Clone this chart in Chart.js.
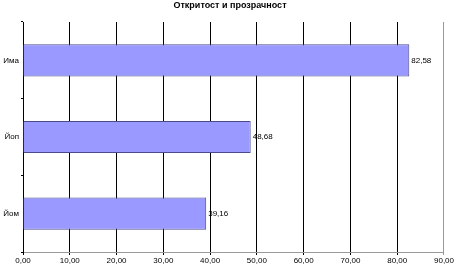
<!DOCTYPE html>
<html>
<head>
<meta charset="utf-8">
<script src="https://cdn.jsdelivr.net/npm/chart.js@4.4.0/dist/chart.umd.min.js"></script>
<style>
  html, body { margin: 0; padding: 0; background: #fff; }
  #wrap { width: 455px; height: 268px; }
</style>
</head>
<body>
<div id="wrap"><canvas id="myChart" width="455" height="268"></canvas></div>
<script>
const chartTitle = 'Откритост и прозрачност';
const categories = ['Има', 'Йоп', 'Йом'];
const values = [82.58, 48.68, 39.16];
const xMin = 0;
const xMax = 90;
const xStep = 10;

const fmt = v => v.toFixed(2).replace('.', ',');

// title + value labels next to bars
const textPlugin = {
  id: 'textPlugin',
  afterDraw(chart) {
    const c = chart.ctx;
    c.save();
    c.fillStyle = '#000';
    c.font = 'bold 9px "Liberation Sans", Arial, sans-serif';
    c.textAlign = 'center';
    c.textBaseline = 'middle';
    c.fillText(chartTitle, 230, 6);

    c.font = '8px "Liberation Sans", Arial, sans-serif';
    c.textAlign = 'left';
    chart.getDatasetMeta(0).data.forEach((bar, i) => {
      c.fillText(fmt(values[i]), bar.x + 2, bar.y);
    });
    c.restore();
  }
};

const ctx = document.getElementById('myChart').getContext('2d');

const chart = new Chart(ctx, {
  type: 'bar',
  data: {
    labels: categories,
    datasets: [
      {
        data: values,
        backgroundColor: '#9999ff',
        borderColor: '#4b4b8c',
        borderWidth: 1,
        barPercentage: 0.42,
        categoryPercentage: 1,
      },
    ],
  },
  options: {
    indexAxis: 'y',
    responsive: false,
    animation: false,
    layout: {
      padding: { top: 22, right: 10, left: 0, bottom: 0 },
    },
    plugins: {
      legend: { display: false },
      title: { display: false },
      tooltip: { enabled: false },
    },
    scales: {
      x: {
        min: xMin,
        max: xMax,
        afterFit(scale) {
          scale.height = 16;
        },
        border: { color: '#999', width: 1 },
        grid: {
          color: c => (c.tick && c.tick.value === xMax ? '#999' : '#000'),
          lineWidth: 1,
          tickLength: 3,
        },
        ticks: {
          stepSize: xStep,
          padding: 1,
          maxRotation: 0,
          color: '#000',
          font: { size: 8, family: '"Liberation Sans", Arial, sans-serif' },
          callback: v => fmt(v),
        },
      },
      y: {
        afterFit(scale) {
          scale.width = 23;
        },
        border: { color: '#000', width: 1 },
        grid: {
          offset: true,
          drawOnChartArea: false,
          color: '#000',
          tickLength: 2,
        },
        ticks: {
          padding: 2,
          color: '#000',
          font: { size: 8, family: '"Liberation Sans", Arial, sans-serif' },
        },
      },
    },
  },
  plugins: [textPlugin],
});
</script>
</body>
</html>
